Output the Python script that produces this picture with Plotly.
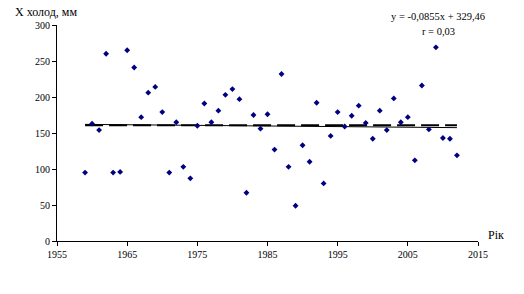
import plotly.graph_objects as go
import numpy as np

years = list(range(1959, 2013))
values = [95, 163, 154, 260, 95, 96, 265, 241, 172, 206, 214, 179, 95, 165, 103, 87,
          160, 191, 165, 181, 203, 211, 197, 67, 175, 156, 176, 127, 232, 103, 49, 133,
          110, 192, 80, 146, 179, 159, 174, 188, 164, 142, 181, 154, 198, 165, 172, 112,
          216, 155, 269, 143, 142, 119]
trend_slope = -0.0855
trend_intercept = 329.46
eq_text = "y = -0,0855x + 329,46"
r_text = "r = 0,03"
x_ticks = [1955, 1965, 1975, 1985, 1995, 2005, 2015]
y_ticks = [0, 50, 100, 150, 200, 250, 300]

FONT = "Liberation Serif"
xs = np.array([years[0], years[-1]])
mean_val = float(np.mean(values))

fig = go.Figure()
fig.add_trace(go.Scatter(x=xs, y=[mean_val, mean_val], mode="lines",
                         line=dict(color="black", width=2, dash="18px,6px"),
                         showlegend=False, hoverinfo="skip"))
fig.add_trace(go.Scatter(x=xs, y=trend_slope * xs + trend_intercept, mode="lines",
                         line=dict(color="black", width=1),
                         showlegend=False, hoverinfo="skip"))
fig.add_trace(go.Scatter(x=years, y=values, mode="markers",
                         marker=dict(symbol="diamond", size=4.5, color="#000080"),
                         showlegend=False))

fig.update_layout(
    width=524, height=294,
    margin=dict(l=56.5, r=45.7, t=25, b=53.3),
    paper_bgcolor="white", plot_bgcolor="white",
    font=dict(family=FONT, size=10, color="black"),
    xaxis=dict(range=[1955, 2015], tickvals=x_ticks, showline=True, linecolor="black",
               linewidth=1, ticks="outside", ticklen=4, tickcolor="black",
               showgrid=False, zeroline=False, tickfont=dict(size=10, family=FONT)),
    yaxis=dict(range=[0, 300], tickvals=y_ticks, showline=True, linecolor="black",
               linewidth=1, ticks="outside", ticklen=4, tickcolor="black",
               showgrid=False, zeroline=False, tickfont=dict(size=10, family=FONT)),
    annotations=[
        dict(text="Х холод, мм", xref="paper", yref="paper", x=-0.104, y=1.058,
             xanchor="left", yanchor="middle", showarrow=False,
             font=dict(size=12, family=FONT)),
        dict(text="Рік", xref="paper", yref="paper", x=1.02, y=0.026,
             xanchor="left", yanchor="middle", showarrow=False,
             font=dict(size=12, family=FONT)),
        dict(text=eq_text, xref="paper", yref="paper", x=0.905, y=1.04,
             xanchor="center", yanchor="middle", showarrow=False,
             font=dict(size=10.5, family=FONT)),
        dict(text=r_text, xref="paper", yref="paper", x=0.905, y=0.97,
             xanchor="center", yanchor="middle", showarrow=False,
             font=dict(size=10.5, family=FONT)),
    ],
)
fig.write_html("out.html")
